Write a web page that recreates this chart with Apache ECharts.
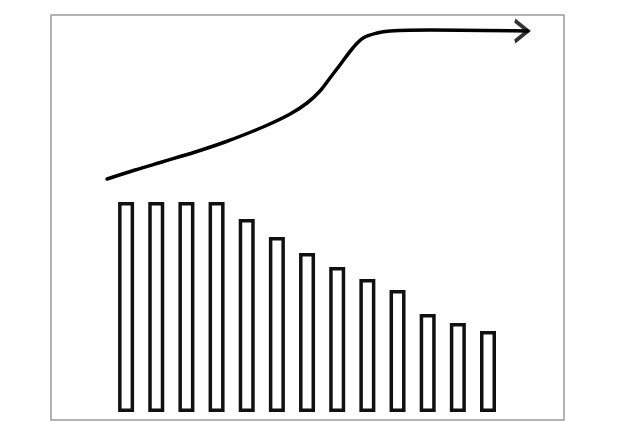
<!DOCTYPE html>
<html>
<head>
<meta charset="utf-8">
<script src="https://cdn.jsdelivr.net/npm/echarts@6/dist/echarts.min.js"></script>
<style>
html,body{margin:0;padding:0;background:#fff;}
#chart{width:642px;height:425px;}
</style>
</head>
<body>
<div id="chart"></div>
<script>
// bar positions (index) and heights (relative units)
const barIndex = [1,2,3,4,5,6,7,8,9,10,11,12,13];
const barValues = [210,210,210,210,193,175,159,145,133,122,98,89,81];

// trend curve (x in bar-index units, y in same units as bars)
const curveX = [0.37,1.30,2.19,3.29,4.28,5.54,6.44,7.00,7.43,7.76,8.09,8.52,8.86,9.32,9.75,11.08,14.32];
const curveY = [233,242,250,260,270,285,298,309,321,334,347,364,374,379,381,382,381];

const chart = echarts.init(document.getElementById('chart'), null, {renderer:'canvas'});
const barData = barIndex.map((x,i)=>[x, barValues[i]]);
const curveData = curveX.map((x,i)=>[x, curveY[i]]);
const last = curveData[curveData.length-1];

chart.setOption({
  backgroundColor:'#fff',
  animation:false,
  grid:{left:51, top:15, right:78, bottom:5, show:true, borderColor:'#9a9a9a', borderWidth:1.5, backgroundColor:'#fff'},
  xAxis:{type:'value', min:-1.49, max:15.52, show:false, splitLine:{show:false}},
  yAxis:{type:'value', min:-8, max:397, show:false, splitLine:{show:false}},
  series:[
    {
      type:'bar',
      data:barData,
      barWidth:16,
      itemStyle:{color:'#fff', borderColor:'#111', borderWidth:3.5}
    },
    {
      type:'line',
      data:curveData,
      smooth:0.35,
      symbol:'none',
      lineStyle:{color:'#000', width:3.5, cap:'round', join:'round'}
    },
    {
      type:'scatter',
      data:[last],
      symbol:'path://M0,0 L12,10 L0,20',
      symbolSize:[13,21],
      symbolOffset:[-6.5,0],
      itemStyle:{color:'rgba(0,0,0,0)', borderColor:'#000', borderWidth:3.5}
    }
  ]
});
</script>
</body>
</html>
